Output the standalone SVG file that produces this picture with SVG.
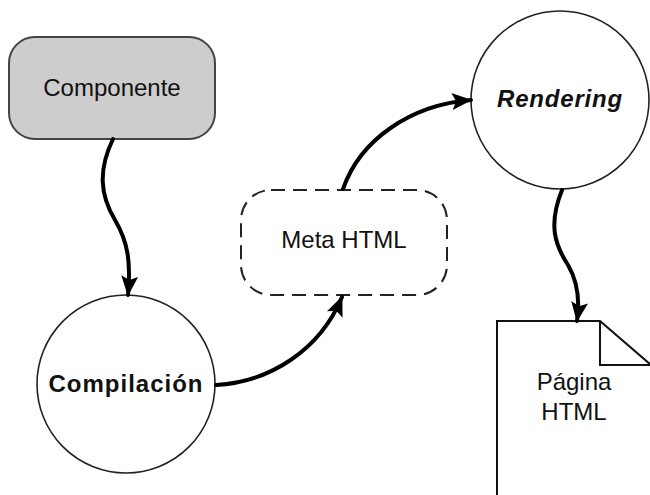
<svg xmlns="http://www.w3.org/2000/svg" width="650" height="495" viewBox="0 0 650 495">
  <defs>
    <marker id="head" markerUnits="userSpaceOnUse" markerWidth="20" markerHeight="17" viewBox="0 0 20 17" refX="19" refY="8.5" orient="auto">
      <path d="M0,0 L20,8.5 L0,17 L4,8.5 Z" fill="#000"/>
    </marker>
  </defs>
  <style>
    .lbl { font-family: "Liberation Sans", Arial, sans-serif; font-size: 24px; fill: #111; text-anchor: middle; }
    .edge { fill: none; stroke: #000; stroke-width: 4; stroke-linecap: round; marker-end: url(#head); }
    .ring { fill: #fff; stroke: #222; stroke-width: 1.6; }
  </style>
  <rect width="650" height="495" fill="#fff"/>

  <g id="componente">
    <rect x="9" y="37" width="206" height="102" rx="26" ry="26" fill="#cdcdcd" stroke="#444" stroke-width="2"/>
    <text class="lbl" x="112" y="96" font-size="26">Componente</text>
  </g>

  <g id="compilacion">
    <circle class="ring" cx="126" cy="384" r="89"/>
    <text class="lbl" x="126" y="392" font-weight="bold" letter-spacing="1" fill="#222">Compilación</text>
  </g>

  <g id="meta-html">
    <rect x="241" y="190" width="206" height="105" rx="30" ry="30" fill="#fff" stroke="#222" stroke-width="2" stroke-dasharray="14 8"/>
    <text class="lbl" x="344" y="248">Meta HTML</text>
  </g>

  <g id="rendering">
    <circle class="ring" cx="560" cy="100" r="89"/>
    <text class="lbl" x="560" y="107" font-weight="bold" font-style="italic" letter-spacing="0.8">Rendering</text>
  </g>

  <g id="pagina-html">
    <path d="M497,497 L497,321 L600,321 L651,365 L651,497" fill="#fff" stroke="#111" stroke-width="2"/>
    <path d="M600,321 L600,365 L651,365" fill="none" stroke="#111" stroke-width="2"/>
    <text class="lbl" x="574" y="390">Página</text>
    <text class="lbl" x="574" y="420">HTML</text>
  </g>

  <g id="connectors">
    <path class="edge" d="M113,139 C98,170 100,195 115,220 C128,242 131,262 128,295"/>
    <path class="edge" d="M216,385 C270,382 320,350 342,297"/>
    <path class="edge" d="M343,189 C360,140 410,105 471,100"/>
    <path class="edge" d="M562,190 C548,225 555,245 568,265 C578,282 580,300 577,321"/>
  </g>
</svg>
